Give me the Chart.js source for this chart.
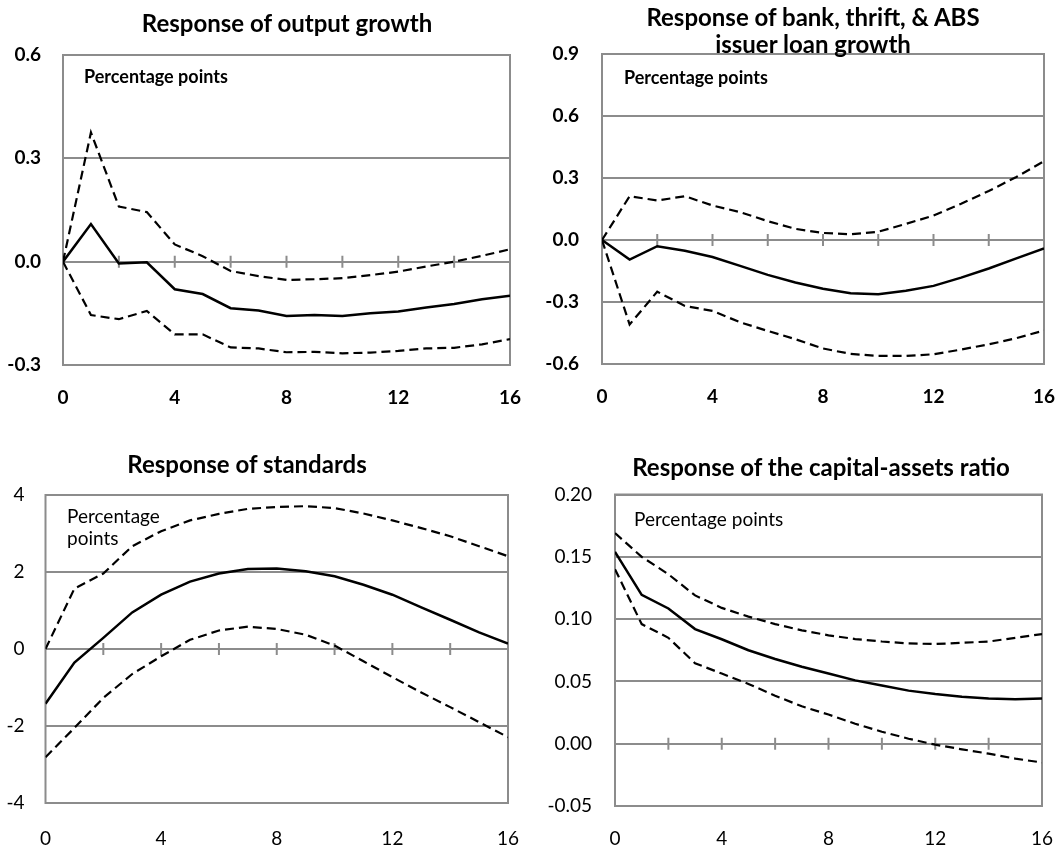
<!DOCTYPE html>
<html>
<head>
<meta charset="utf-8">
<script src="https://cdn.jsdelivr.net/npm/chart.js@4"></script>
<style>
    body {margin: 0; background: #fff;}
    #page {position: relative; width: 1061px; height: 852px; font-family: Lato, sans-serif; color: #000;}
    canvas {position: absolute;}
    .title {position: absolute; font-weight: bold; font-size: 24px; line-height: 27px; text-align: center; white-space: nowrap; transform: translateX(-50%);}
    .note {position: absolute; font-size: 19px; line-height: 22px; white-space: nowrap;}
</style>
</head>
<body>
<div id="page">
    <canvas id="outputChart" width="540" height="420" style="left:0;top:0"></canvas>
    <canvas id="loanChart" width="531" height="420" style="left:530px;top:0"></canvas>
    <canvas id="standardsChart" width="540" height="432" style="left:0;top:420px"></canvas>
    <canvas id="capitalChart" width="531" height="432" style="left:530px;top:420px"></canvas>

    <div class="title" style="left:287px;top:9px">Response of output growth</div>
    <div class="title" style="left:813px;top:3px">Response of bank, thrift, &amp; ABS<br>issuer loan growth</div>
    <div class="title" style="left:247px;top:450px">Response of standards</div>
    <div class="title" style="left:821px;top:453px">Response of the capital-assets ratio</div>

    <div class="note" style="left:84px;top:65px;font-weight:bold;font-size:18px">Percentage points</div>
    <div class="note" style="left:624px;top:66px;font-weight:bold;font-size:18px">Percentage points</div>
    <div class="note" style="left:67px;top:505px">Percentage<br>points</div>
    <div class="note" style="left:634px;top:508px">Percentage points</div>
</div>
<script>
// quarters after the shock
const horizons = [0, 1, 2, 3, 4, 5, 6, 7, 8, 9, 10, 11, 12, 13, 14, 15, 16];
const zeroTicks = [2, 4, 6, 8, 10, 12, 14];

// output growth
const outputMid = [0, 0.109, -0.005, -0.002, -0.080, -0.094, -0.135, -0.142, -0.158, -0.155, -0.158, -0.150, -0.145, -0.133, -0.123, -0.109, -0.099];
const outputUp  = [0, 0.375, 0.160, 0.144, 0.050, 0.016, -0.027, -0.042, -0.053, -0.051, -0.048, -0.039, -0.029, -0.014, 0.000, 0.017, 0.036];
const outputLo  = [0, -0.155, -0.167, -0.143, -0.211, -0.211, -0.249, -0.252, -0.263, -0.262, -0.266, -0.264, -0.259, -0.252, -0.250, -0.240, -0.225];
const outputTicks = [-0.3, 0, 0.3, 0.6];

// bank, thrift & ABS issuer loan growth
const loanMid = [0, -0.095, -0.030, -0.052, -0.082, -0.125, -0.169, -0.206, -0.236, -0.258, -0.263, -0.246, -0.222, -0.182, -0.138, -0.089, -0.041];
const loanUp  = [0, 0.212, 0.191, 0.212, 0.167, 0.135, 0.091, 0.054, 0.034, 0.028, 0.040, 0.078, 0.118, 0.175, 0.237, 0.305, 0.381];
const loanLo  = [0, -0.409, -0.250, -0.319, -0.343, -0.398, -0.440, -0.480, -0.525, -0.551, -0.561, -0.561, -0.553, -0.530, -0.505, -0.475, -0.438];
const loanTicks = [-0.6, -0.3, 0, 0.3, 0.6, 0.9];

// lending standards
const stdMid = [-1.42, -0.35, 0.29, 0.95, 1.41, 1.75, 1.96, 2.08, 2.09, 2.02, 1.89, 1.67, 1.41, 1.08, 0.76, 0.43, 0.14];
const stdUp  = [0, 1.57, 1.96, 2.67, 3.06, 3.34, 3.51, 3.64, 3.69, 3.71, 3.66, 3.52, 3.34, 3.14, 2.93, 2.67, 2.41];
const stdLo  = [-2.81, -2.05, -1.27, -0.65, -0.19, 0.24, 0.48, 0.58, 0.52, 0.37, 0.09, -0.32, -0.73, -1.13, -1.51, -1.90, -2.29];
const stdTicks = [-4, -2, 0, 2, 4];

// capital-assets ratio
const capMid = [0.154, 0.1195, 0.1085, 0.092, 0.0838, 0.075, 0.068, 0.0618, 0.0563, 0.0508, 0.0467, 0.0426, 0.0398, 0.0376, 0.0363, 0.0357, 0.0363];
const capUp  = [0.169, 0.150, 0.136, 0.119, 0.109, 0.102, 0.096, 0.091, 0.087, 0.084, 0.082, 0.0805, 0.080, 0.081, 0.082, 0.085, 0.088];
const capLo  = [0.140, 0.096, 0.085, 0.0646, 0.0563, 0.048, 0.0385, 0.030, 0.0234, 0.016, 0.0096, 0.004, -0.0008, -0.0045, -0.0080, -0.0120, -0.0151];
const capTicks = [-0.05, 0, 0.05, 0.10, 0.15, 0.20];

const GRID = '#8c8c8c';

// box round the plot and the little tick marks on the zero line
const frame = {
    id: 'frame',
    beforeDatasetsDraw(chart) {
        const ctx = chart.ctx;
        const a = chart.chartArea;
        const x = chart.scales.x;
        const y0 = chart.scales.y.getPixelForValue(0);
        ctx.save();
        ctx.strokeStyle = GRID;
        ctx.lineWidth = 2;
        ctx.beginPath();
        zeroTicks.forEach(t => {
            const px = x.getPixelForValue(t);
            ctx.moveTo(px, y0 - 6);
            ctx.lineTo(px, y0 + 6);
        });
        ctx.stroke();
        ctx.strokeRect(a.left, a.top, a.right - a.left, a.bottom - a.top);
        ctx.restore();
    }
};

function makePanel(canvasId, box, ticks, digits, mid, up, lo, bold) {
    const font = {family: 'Lato', size: 19, weight: bold ? 'bold' : 'normal'};
    const dashed = {borderColor: '#000', borderWidth: 2.2, borderDash: [9, 5], pointRadius: 0, tension: 0, fill: false};
    return new Chart(document.getElementById(canvasId), {
        type: 'line',
        data: {
            labels: horizons,
            datasets: [
                {data: mid, borderColor: '#000', borderWidth: 2.5, pointRadius: 0, tension: 0, fill: false},
                Object.assign({data: up}, dashed),
                Object.assign({data: lo}, dashed),
            ]
        },
        options: {
            responsive: false,
            animation: false,
            events: [],
            layout: {padding: {left: 0, top: box.top, right: box.w - box.right, bottom: 0}},
            plugins: {legend: {display: false}, tooltip: {enabled: false}, title: {display: false}},
            scales: {
                x: {
                    type: 'linear', min: 0, max: 16,
                    grid: {display: false}, border: {display: false},
                    ticks: {stepSize: 4, font: font, color: '#000', padding: box.xPad, maxRotation: 0},
                    afterFit: s => {
                        s.height = box.h - box.bottom;
                        s.paddingLeft = 0;
                        s.paddingRight = 0;
                    }
                },
                y: {
                    min: ticks[0], max: ticks[ticks.length - 1],
                    afterBuildTicks: s => { s.ticks = ticks.map(v => ({value: v})); },
                    grid: {color: GRID, lineWidth: 2, drawTicks: false}, border: {display: false},
                    ticks: {font: font, color: '#000', padding: box.yPad, callback: v => v.toFixed(digits)},
                    afterFit: s => {
                        s.width = box.left;
                        s.paddingTop = 0;
                        s.paddingBottom = 0;
                    }
                }
            }
        },
        plugins: [frame]
    });
}

makePanel('outputChart', {w: 540, h: 420, left: 63, right: 510, top: 55, bottom: 365, xPad: 13, yPad: 22},
    outputTicks, 1, outputMid, outputUp, outputLo, true);
makePanel('loanChart', {w: 531, h: 420, left: 72, right: 514, top: 54, bottom: 364, xPad: 13, yPad: 23},
    loanTicks, 1, loanMid, loanUp, loanLo, true);
makePanel('standardsChart', {w: 540, h: 432, left: 45.5, right: 508, top: 75, bottom: 383, xPad: 16, yPad: 21},
    stdTicks, 0, stdMid, stdUp, stdLo, false);
makePanel('capitalChart', {w: 531, h: 432, left: 85, right: 512, top: 74.5, bottom: 386, xPad: 13, yPad: 23},
    capTicks, 2, capMid, capUp, capLo, false);
</script>
</body>
</html>
